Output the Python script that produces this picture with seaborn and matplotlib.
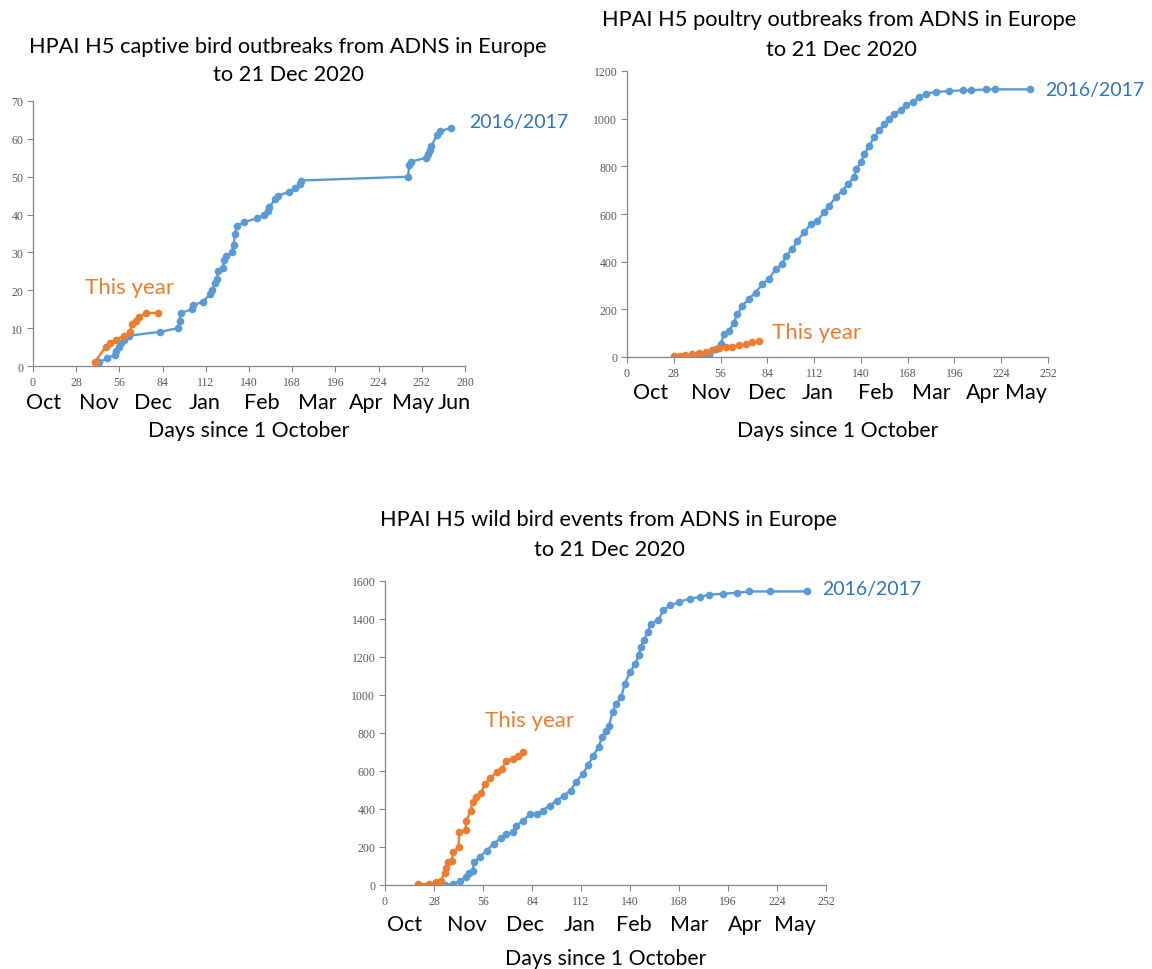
import matplotlib
matplotlib.use('Agg')
import matplotlib.pyplot as plt
import seaborn as sns
import pandas as pd

# captive birds, 2016/2017 season (day since 1 Oct, cumulative outbreaks)
captive_old_day = [43, 48, 53, 54, 56, 57, 59, 62, 82, 94, 95, 96, 103, 104, 110, 115, 116, 118, 119,
                   120, 123, 124, 125, 129, 130, 131, 132, 137, 145, 150, 152, 153, 157, 159, 166, 170,
                   173, 174, 243, 244, 245, 255, 256, 257, 258, 262, 264, 271]
captive_old_val = [1, 2, 3, 4, 5, 6, 7, 8, 9, 10, 12, 14, 15, 16, 17, 19, 20, 22, 23,
                   25, 26, 28, 29, 30, 32, 35, 37, 38, 39, 40, 41, 42, 44, 45, 46, 47,
                   48, 49, 50, 53, 54, 55, 56, 57, 58, 61, 62, 63]
captive_new_day = [40, 47, 50, 54, 59, 63, 64, 67, 69, 73, 81]
captive_new_val = [1, 5, 6, 7, 8, 9, 11, 12, 13, 14, 14]

# poultry outbreaks
poultry_old_day = [38, 45, 49, 53, 56, 58, 61, 64, 66, 69, 73, 77, 81, 85, 89, 93, 95, 99, 102, 106,
                   110, 114, 118, 121, 125, 129, 132, 136, 137, 140, 142, 145, 148, 151, 154, 157,
                   160, 164, 167, 171, 175, 179, 185, 193, 201, 206, 215, 220, 241]
poultry_old_val = [0, 3, 8, 32, 53, 95, 109, 144, 180, 214, 245, 270, 306, 327, 369, 390, 425, 453,
                   488, 523, 558, 572, 607, 635, 670, 698, 726, 754, 789, 817, 852, 887, 922, 951,
                   979, 1000, 1021, 1035, 1056, 1070, 1091, 1105, 1112, 1116, 1119, 1119, 1123, 1123, 1123]
poultry_new_day = [28, 32, 35, 39, 43, 47, 51, 55, 59, 63, 67, 71, 75, 79]
poultry_new_val = [4, 4, 7, 11, 17, 23, 29, 36, 40, 44, 49, 55, 61, 68]

# wild bird events
wild_old_day = [34, 39, 43, 46, 48, 50, 51, 54, 58, 62, 66, 69, 73, 75, 79, 83, 87, 90, 94, 98,
                102, 106, 109, 113, 116, 119, 122, 124, 126, 128, 130, 132, 135, 137, 140, 143,
                145, 146, 148, 150, 152, 156, 159, 163, 168, 174, 180, 185, 193, 201, 208, 220, 241]
wild_old_val = [0, 5, 23, 40, 61, 76, 119, 149, 181, 216, 246, 269, 277, 313, 339, 374, 374, 392,
                418, 444, 471, 497, 541, 585, 629, 681, 725, 778, 813, 839, 910, 954, 989, 1059,
                1120, 1164, 1208, 1252, 1287, 1331, 1375, 1393, 1445, 1472, 1489, 1507, 1516,
                1528, 1533, 1538, 1545, 1545, 1545]
wild_new_day = [19, 25, 29, 32, 34, 35, 36, 38, 39, 42, 42.5, 46, 46.5, 49, 50, 52, 55, 57, 60, 64,
                67, 69, 73, 76, 79]
wild_new_val = [5, 5, 14, 23, 63, 88, 123, 128, 176, 198, 277, 292, 339, 392, 436, 462, 485, 532,
                562, 594, 608, 655, 664, 681, 702]

months = ['Oct', 'Nov', 'Dec', 'Jan', 'Feb', 'Mar', 'Apr', 'May', 'Jun']

BLUE = '#5B9BD5'
ORANGE = '#ED7D31'
LABEL_BLUE = '#2E75B6'
GREY = '#868686'

sns.set_style('white')
plt.rcParams['font.family'] = ['Lato', 'DejaVu Sans']

fig = plt.figure(figsize=(11.52, 9.7), dpi=100)


def draw_panel(rect, old_day, old_val, new_day, new_val, xmax, ymax, ystep,
               month_pos, month_off, xlabel_off, old_lab, new_lab):
    ax = fig.add_axes(rect)
    df_old = pd.DataFrame({'day': old_day, 'n': old_val})
    df_new = pd.DataFrame({'day': new_day, 'n': new_val})
    for d, c in [(df_old, BLUE), (df_new, ORANGE)]:
        sns.lineplot(data=d, x='day', y='n', ax=ax, color=c, marker='o', markersize=5.5,
                     markeredgewidth=0, linewidth=1.7, sort=False, estimator=None)
    ax.set_xlim(0, xmax)
    ax.set_ylim(0, ymax)
    ax.set_xticks(range(0, xmax + 1, 28))
    ax.set_yticks(range(0, ymax + 1, ystep))
    ax.set_xlabel('')
    ax.set_ylabel('')
    for s in ['top', 'right']:
        ax.spines[s].set_visible(False)
    for s in ['left', 'bottom']:
        ax.spines[s].set_color(GREY)
        ax.spines[s].set_linewidth(0.9)
    ax.tick_params(axis='both', direction='out', length=4, width=0.8, color=GREY,
                   labelsize=8.5, labelcolor='#595959', pad=3)
    ax.tick_params(axis='x', bottom=True)
    ax.tick_params(axis='y', left=True)
    for lab in ax.get_xticklabels() + ax.get_yticklabels():
        lab.set_family('Liberation Serif')
    for m, x in zip(months, month_pos):
        ax.annotate(m, xy=(x, 0), xycoords=('data', 'axes fraction'), xytext=(0, -month_off),
                    textcoords='offset pixels', ha='center', va='center', fontsize=15.5,
                    color='black', annotation_clip=False)
    ax.annotate('Days since 1 October', xy=(0.5, 0), xycoords='axes fraction',
                xytext=(0, -xlabel_off), textcoords='offset pixels', ha='center', va='center',
                fontsize=15.3, color='black')
    ax.text(old_lab[0], old_lab[1], '2016/2017', color=LABEL_BLUE, fontsize=14,
            ha='left', va='center', clip_on=False)
    ax.text(new_lab[0], new_lab[1], 'This year', color=ORANGE, fontsize=16,
            ha='left', va='center', clip_on=False)
    return ax


draw_panel([33 / 1152, 1 - 367 / 970, 432 / 1152, 265 / 970],
           captive_old_day, captive_old_val, captive_new_day, captive_new_val,
           280, 70, 10, [7, 43, 78, 111, 148, 184, 216, 246, 273], 36, 64,
           (283, 64.5), (34, 21))

draw_panel([627 / 1152, 1 - 358 / 970, 421 / 1152, 286 / 970],
           poultry_old_day, poultry_old_val, poultry_new_day, poultry_new_val,
           252, 1200, 200, [14, 50, 84, 114, 149, 182, 213, 239], 35, 73,
           (250, 1124), (87, 105))

draw_panel([385 / 1152, 1 - 886 / 970, 441 / 1152, 304 / 970],
           wild_old_day, wild_old_val, wild_new_day, wild_new_val,
           252, 1600, 200, [11, 47, 80, 111, 142, 174, 206, 234], 39, 73,
           (250, 1558), (57, 868))

titles = [
    ('HPAI H5 captive bird outbreaks from ADNS in Europe', 288, 47),
    ('to 21 Dec 2020', 288, 75),
    ('HPAI H5 poultry outbreaks from ADNS in Europe', 839, 20),
    ('to 21 Dec 2020', 841, 50),
    ('HPAI H5 wild bird events from ADNS in Europe', 609, 520),
    ('to 21 Dec 2020', 609, 550),
]
for t, x, y in titles:
    fig.text(x / 1152, 1 - y / 970, t, ha='center', va='center', fontsize=15.7, color='black')

fig.savefig('out.png', dpi=100)
